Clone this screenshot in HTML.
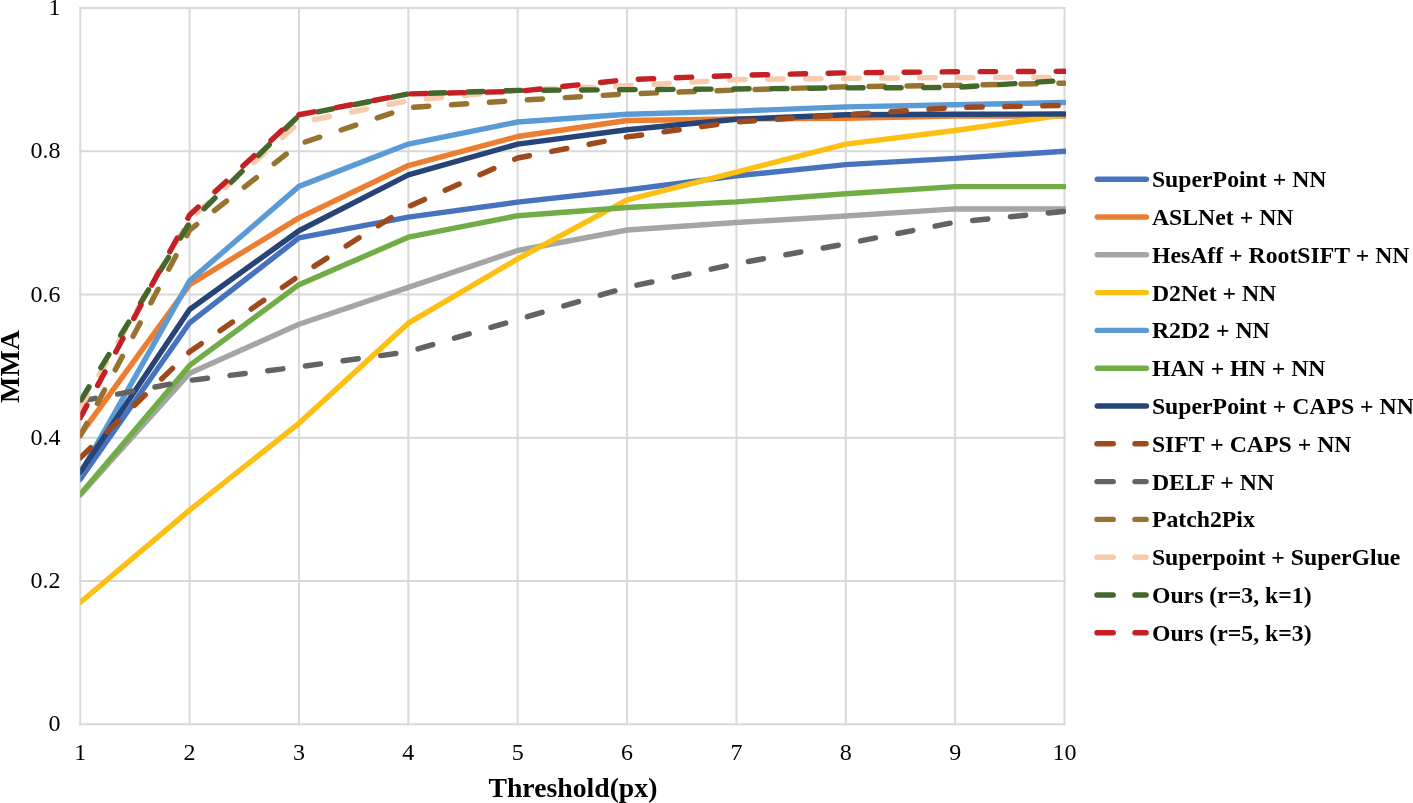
<!DOCTYPE html>
<html><head><meta charset="utf-8"><title>MMA chart</title>
<style>
html,body{margin:0;padding:0;background:#fff;}
body{width:1413px;height:803px;overflow:hidden;}
svg{display:block;will-change:transform;}
text{font-family:"Liberation Serif",serif;fill:#000;}
</style></head><body>
<svg width="1413" height="803" viewBox="0 0 1413 803">
<defs><clipPath id="pa"><rect x="80.25" y="0.00" width="985.75" height="803.00"/></clipPath></defs>
<g stroke="#D9D9D9" stroke-width="2" stroke-linecap="square"><line x1="80.25" y1="724.25" x2="1064.50" y2="724.25"/><line x1="80.25" y1="581.00" x2="1064.50" y2="581.00"/><line x1="80.25" y1="437.75" x2="1064.50" y2="437.75"/><line x1="80.25" y1="294.50" x2="1064.50" y2="294.50"/><line x1="80.25" y1="151.25" x2="1064.50" y2="151.25"/><line x1="80.25" y1="8.00" x2="1064.50" y2="8.00"/><line x1="80.25" y1="8.00" x2="80.25" y2="724.25"/><line x1="189.61" y1="8.00" x2="189.61" y2="724.25"/><line x1="298.97" y1="8.00" x2="298.97" y2="724.25"/><line x1="408.33" y1="8.00" x2="408.33" y2="724.25"/><line x1="517.69" y1="8.00" x2="517.69" y2="724.25"/><line x1="627.06" y1="8.00" x2="627.06" y2="724.25"/><line x1="736.42" y1="8.00" x2="736.42" y2="724.25"/><line x1="845.78" y1="8.00" x2="845.78" y2="724.25"/><line x1="955.14" y1="8.00" x2="955.14" y2="724.25"/><line x1="1064.50" y1="8.00" x2="1064.50" y2="724.25"/></g>
<text transform="translate(60.50 731.25) scale(1.000 1.000)" font-size="24" text-anchor="end">0</text>
<text transform="translate(60.50 588.00) scale(1.000 1.000)" font-size="24" text-anchor="end">0.2</text>
<text transform="translate(60.50 444.75) scale(1.000 1.000)" font-size="24" text-anchor="end">0.4</text>
<text transform="translate(60.50 301.50) scale(1.000 1.000)" font-size="24" text-anchor="end">0.6</text>
<text transform="translate(60.50 158.25) scale(1.000 1.000)" font-size="24" text-anchor="end">0.8</text>
<text transform="translate(60.50 15.00) scale(1.000 1.000)" font-size="24" text-anchor="end">1</text>
<text transform="translate(80.25 760.40) scale(1.000 1.000)" font-size="24" text-anchor="middle">1</text>
<text transform="translate(189.61 760.40) scale(1.000 1.000)" font-size="24" text-anchor="middle">2</text>
<text transform="translate(298.97 760.40) scale(1.000 1.000)" font-size="24" text-anchor="middle">3</text>
<text transform="translate(408.33 760.40) scale(1.000 1.000)" font-size="24" text-anchor="middle">4</text>
<text transform="translate(517.69 760.40) scale(1.000 1.000)" font-size="24" text-anchor="middle">5</text>
<text transform="translate(627.06 760.40) scale(1.000 1.000)" font-size="24" text-anchor="middle">6</text>
<text transform="translate(736.42 760.40) scale(1.000 1.000)" font-size="24" text-anchor="middle">7</text>
<text transform="translate(845.78 760.40) scale(1.000 1.000)" font-size="24" text-anchor="middle">8</text>
<text transform="translate(955.14 760.40) scale(1.000 1.000)" font-size="24" text-anchor="middle">9</text>
<text transform="translate(1064.50 760.40) scale(1.000 1.000)" font-size="24" text-anchor="middle">10</text>
<text transform="translate(572.90 797.10) scale(0.990 1.000)" font-size="28" font-weight="bold" text-anchor="middle">Threshold(px)</text>
<text transform="translate(19.2 366.5) rotate(-90) scale(1 1.000)" text-anchor="middle" font-size="28" font-weight="bold">MMA</text>
<g clip-path="url(#pa)" fill="none" stroke-width="5.43" stroke-linecap="round" stroke-linejoin="round"><polyline points="80.25,479.29 189.61,322.79 298.97,237.92 408.33,217.15 517.69,202.10 627.06,189.93 736.42,175.82 845.78,164.64 955.14,158.41 1064.50,151.25" stroke="#4672BE"/>
<polyline points="80.25,434.88 189.61,284.69 298.97,217.86 408.33,165.57 517.69,136.50 627.06,120.45 736.42,119.02 845.78,118.30 955.14,116.15 1064.50,116.15" stroke="#ED7D31"/>
<polyline points="80.25,495.05 189.61,373.29 298.97,324.30 408.33,287.34 517.69,250.52 627.06,230.04 736.42,222.52 845.78,216.07 955.14,208.91 1064.50,208.91" stroke="#A5A5A5"/>
<polyline points="80.25,602.49 189.61,510.09 298.97,423.28 408.33,323.15 517.69,258.90 627.06,199.96 736.42,172.02 845.78,144.09 955.14,130.48 1064.50,114.72" stroke="#FDBF12"/>
<polyline points="80.25,473.56 189.61,280.89 298.97,186.35 408.33,144.09 517.69,122.03 627.06,114.29 736.42,111.14 845.78,106.84 955.14,104.69 1064.50,102.54" stroke="#5B9BD5"/>
<polyline points="80.25,494.33 189.61,365.41 298.97,284.69 408.33,237.20 517.69,215.71 627.06,207.48 736.42,201.89 845.78,193.80 955.14,186.63 1064.50,186.63" stroke="#70AD47"/>
<polyline points="80.25,472.13 189.61,309.54 298.97,230.75 408.33,174.89 517.69,144.09 627.06,129.76 736.42,119.31 845.78,114.72 955.14,114.22 1064.50,114.00" stroke="#264478"/>
<polyline points="80.25,457.81 189.61,351.80 298.97,275.88 408.33,206.62 517.69,157.98 627.06,136.93 736.42,121.88 845.78,114.72 955.14,107.56 1064.50,105.41" stroke="#9F4A1C" stroke-dasharray="15.3 22.7" stroke-dashoffset="0.74"/>
<polyline points="80.25,401.22 189.61,380.45 298.97,366.84 408.33,351.80 517.69,319.57 627.06,287.34 736.42,263.70 845.78,243.86 955.14,222.16 1064.50,211.42" stroke="#636363" stroke-dasharray="15.3 22.7" stroke-dashoffset="37.97"/>
<polyline points="80.25,435.60 189.61,230.04 298.97,144.09 408.33,107.56 517.69,100.40 627.06,93.95 736.42,90.01 845.78,86.79 955.14,85.36 1064.50,83.21" stroke="#967430" stroke-dasharray="15.3 22.7" stroke-dashoffset="1.54"/>
<polyline points="80.25,407.67 189.61,219.29 298.97,122.60 408.33,100.61 517.69,90.37 627.06,85.71 736.42,79.62 845.78,78.34 955.14,77.69 1064.50,77.48" stroke="#F8CBAD" stroke-dasharray="15.3 22.7" stroke-dashoffset="0.47"/>
<polyline points="80.25,401.22 189.61,222.88 298.97,115.44 408.33,93.95 517.69,90.37 627.06,89.65 736.42,88.94 845.78,87.86 955.14,87.50 1064.50,80.34" stroke="#43682B" stroke-dasharray="15.3 22.7" stroke-dashoffset="36.57"/>
<polyline points="80.25,417.69 189.61,215.00 298.97,114.72 408.33,93.95 517.69,91.37 627.06,79.62 736.42,75.40 845.78,72.82 955.14,71.75 1064.50,71.32" stroke="#C42026" stroke-dasharray="15.3 22.7" stroke-dashoffset="1.32"/></g>
<g stroke-width="5.43" stroke-linecap="round"><line x1="1097.3" y1="179.20" x2="1146.4" y2="179.20" stroke="#4672BE"/><line x1="1097.3" y1="217.00" x2="1146.4" y2="217.00" stroke="#ED7D31"/><line x1="1097.3" y1="254.80" x2="1146.4" y2="254.80" stroke="#A5A5A5"/><line x1="1097.3" y1="292.60" x2="1146.4" y2="292.60" stroke="#FDBF12"/><line x1="1097.3" y1="330.40" x2="1146.4" y2="330.40" stroke="#5B9BD5"/><line x1="1097.3" y1="368.20" x2="1146.4" y2="368.20" stroke="#70AD47"/><line x1="1097.3" y1="406.00" x2="1146.4" y2="406.00" stroke="#264478"/><line x1="1097" y1="443.80" x2="1113.2" y2="443.80" stroke="#9F4A1C"/><line x1="1135" y1="443.80" x2="1146.1" y2="443.80" stroke="#9F4A1C"/><line x1="1097" y1="481.60" x2="1113.2" y2="481.60" stroke="#636363"/><line x1="1135" y1="481.60" x2="1146.1" y2="481.60" stroke="#636363"/><line x1="1097" y1="519.40" x2="1113.2" y2="519.40" stroke="#967430"/><line x1="1135" y1="519.40" x2="1146.1" y2="519.40" stroke="#967430"/><line x1="1097" y1="557.20" x2="1113.2" y2="557.20" stroke="#F8CBAD"/><line x1="1135" y1="557.20" x2="1146.1" y2="557.20" stroke="#F8CBAD"/><line x1="1097" y1="595.00" x2="1113.2" y2="595.00" stroke="#43682B"/><line x1="1135" y1="595.00" x2="1146.1" y2="595.00" stroke="#43682B"/><line x1="1097" y1="632.80" x2="1113.2" y2="632.80" stroke="#C42026"/><line x1="1135" y1="632.80" x2="1146.1" y2="632.80" stroke="#C42026"/></g>
<text transform="translate(1151.90 187.20) scale(0.990 1.000)" font-size="24" font-weight="bold">SuperPoint + NN</text>
<text transform="translate(1151.90 225.00) scale(0.990 1.000)" font-size="24" font-weight="bold">ASLNet + NN</text>
<text transform="translate(1151.90 262.80) scale(0.990 1.000)" font-size="24" font-weight="bold">HesAff + RootSIFT + NN</text>
<text transform="translate(1151.90 300.60) scale(0.990 1.000)" font-size="24" font-weight="bold">D2Net + NN</text>
<text transform="translate(1151.90 338.40) scale(0.990 1.000)" font-size="24" font-weight="bold">R2D2 + NN</text>
<text transform="translate(1151.90 376.20) scale(0.990 1.000)" font-size="24" font-weight="bold">HAN + HN + NN</text>
<text transform="translate(1151.90 414.00) scale(0.990 1.000)" font-size="24" font-weight="bold">SuperPoint + CAPS + NN</text>
<text transform="translate(1151.90 451.80) scale(0.990 1.000)" font-size="24" font-weight="bold">SIFT + CAPS + NN</text>
<text transform="translate(1151.90 489.60) scale(0.990 1.000)" font-size="24" font-weight="bold">DELF + NN</text>
<text transform="translate(1151.90 527.40) scale(0.990 1.000)" font-size="24" font-weight="bold">Patch2Pix</text>
<text transform="translate(1151.90 565.20) scale(0.990 1.000)" font-size="24" font-weight="bold">Superpoint + SuperGlue</text>
<text transform="translate(1151.90 603.00) scale(0.990 1.000)" font-size="24" font-weight="bold">Ours (r=3, k=1)</text>
<text transform="translate(1151.90 640.80) scale(0.990 1.000)" font-size="24" font-weight="bold">Ours (r=5, k=3)</text>
</svg></body></html>
